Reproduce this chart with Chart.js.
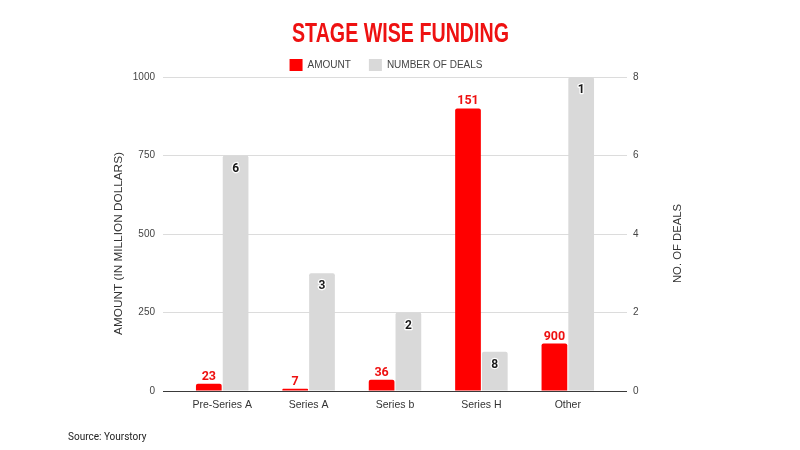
<!DOCTYPE html>
<html><head><meta charset="utf-8">
<script src="https://cdn.jsdelivr.net/npm/chart.js@4/dist/chart.umd.min.js"></script>
<style>html,body{margin:0;padding:0;background:#fff}#wrap{width:800px;height:450px}</style>
</head><body><div id="wrap"><canvas id="c" width="800" height="450"></canvas></div>
<script>
const categories = ['Pre-Series A', 'Series A', 'Series b', 'Series H', 'Other'];
const amounts = [23, 7, 36, 900, 151];
const deals = [6, 3, 2, 1, 8];
const amountLabels = ['23', '7', '36', '151', '900'];
const dealLabels = ['6', '3', '2', '8', '1'];
const amountTicks = [0, 250, 500, 750, 1000];
const dealTicks = [0, 2, 4, 6, 8];
const seriesNames = ['AMOUNT', 'NUMBER OF DEALS'];
const chartTitle = 'STAGE WISE FUNDING';
const leftAxisTitle = 'AMOUNT (IN MILLION DOLLARS)';
const rightAxisTitle = 'NO. OF DEALS';
const sourceText = 'Source: Yourstory';

const RED = '#ff0000';
const GREY = '#d9d9d9';
const gridColor = c => (c.tick && c.tick.value === 0) ? '#3a3a3a' : '#dcdcdc';

const overlay = {
  id: 'overlay',
  afterDatasetsDraw(chart) {
    const ctx = chart.ctx;
    ctx.save();
    ctx.textAlign = 'center';
    ctx.font = 'bold 12.5px Roboto';
    ctx.fillStyle = '#ee1111';
    ctx.textBaseline = 'alphabetic';
    chart.getDatasetMeta(0).data.forEach((el, i) => {
      ctx.fillText(amountLabels[i], el.x, el.y - 4);
    });
    ctx.font = 'bold 12px Roboto';
    ctx.textBaseline = 'middle';
    ctx.lineWidth = 2.5;
    ctx.lineJoin = 'round';
    ctx.strokeStyle = '#ffffff';
    ctx.fillStyle = '#1a1a1a';
    chart.getDatasetMeta(1).data.forEach((el, i) => {
      ctx.strokeText(dealLabels[i], el.x, el.y + 13);
      ctx.fillText(dealLabels[i], el.x, el.y + 13);
    });
    ctx.restore();
  },
  afterDraw(chart) {
    const ctx = chart.ctx;
    const area = chart.chartArea;
    ctx.save();
    ctx.font = 'bold 28px "Liberation Sans Narrow", "Liberation Sans", Arial';
    ctx.fillStyle = '#ee1111';
    ctx.textAlign = 'center';
    ctx.textBaseline = 'alphabetic';
    const w = ctx.measureText(chartTitle).width;
    const sx = 217 / w;
    ctx.save();
    ctx.translate(400.5, 41.7);
    ctx.scale(sx, 1);
    ctx.fillText(chartTitle, 0, 0);
    ctx.restore();
    const cy = (area.top + area.bottom) / 2 + 9.5;
    ctx.font = '11.8px "Liberation Sans", Arial';
    ctx.fillStyle = '#333333';
    ctx.textBaseline = 'middle';
    ctx.save();
    ctx.translate(119, cy);
    ctx.rotate(-Math.PI / 2);
    ctx.fillText(leftAxisTitle, 0, 0);
    ctx.restore();
    ctx.font = '11.3px "Liberation Sans", Arial';
    ctx.save();
    ctx.translate(678, cy);
    ctx.rotate(-Math.PI / 2);
    ctx.fillText(rightAxisTitle, 0, 0);
    ctx.restore();
    ctx.font = '10px Roboto';
    ctx.fillStyle = '#222222';
    ctx.textAlign = 'left';
    ctx.textBaseline = 'alphabetic';
    ctx.fillText(sourceText, 68, 440);
    ctx.restore();
  }
};

new Chart(document.getElementById('c'), {
  type: 'bar',
  data: {
    labels: categories,
    datasets: [
      { label: seriesNames[0], data: amounts, backgroundColor: RED, yAxisID: 'y',
        borderRadius: { topLeft: 2, topRight: 2 }, borderSkipped: 'bottom' },
      { label: seriesNames[1], data: deals, backgroundColor: GREY, yAxisID: 'y2',
        borderRadius: { topLeft: 2, topRight: 2 }, borderSkipped: 'bottom' }
    ]
  },
  options: {
    responsive: false,
    animation: false,
    devicePixelRatio: 1,
    layout: { padding: { top: 41, left: 72, right: 100, bottom: 10 } },
    datasets: { bar: { categoryPercentage: 0.62, barPercentage: 0.96 } },
    plugins: {
      title: { display: false },
      tooltip: { enabled: false },
      legend: {
        position: 'top',
        align: 'center',
        maxHeight: 36,
        labels: {
          boxWidth: 13, boxHeight: 12, padding: 18,
          color: '#444444',
          font: { size: 10, family: '"Liberation Sans", Arial' }
        }
      }
    },
    scales: {
      x: {
        grid: { display: false, drawTicks: false },
        border: { display: false },
        ticks: { padding: 8, color: '#333333', font: { size: 10.5, family: '"Liberation Sans", Arial' } },
        afterFit: s => { s.height = 49; }
      },
      y: {
        position: 'left',
        min: 0, max: 1000,
        afterBuildTicks: s => { s.ticks = amountTicks.map(v => ({ value: v })); },
        grid: { color: gridColor, tickColor: gridColor, drawTicks: true, tickLength: 16, lineWidth: 1 },
        border: { display: false },
        ticks: { padding: 8, color: '#444444', font: { size: 10, family: '"Liberation Sans", Arial' },
          callback: v => String(v) },
        afterFit: s => { s.width = 107; }
      },
      y2: {
        position: 'right',
        min: 0, max: 8,
        afterBuildTicks: s => { s.ticks = dealTicks.map(v => ({ value: v })); },
        grid: { drawOnChartArea: false, color: gridColor, tickColor: gridColor, drawTicks: true, tickLength: 16 },
        border: { display: false },
        ticks: { padding: 6, color: '#444444', font: { size: 10, family: '"Liberation Sans", Arial' },
          callback: v => String(v) },
        afterFit: s => { s.width = 89; }
      }
    }
  },
  plugins: [overlay]
});
</script>
</body></html>
